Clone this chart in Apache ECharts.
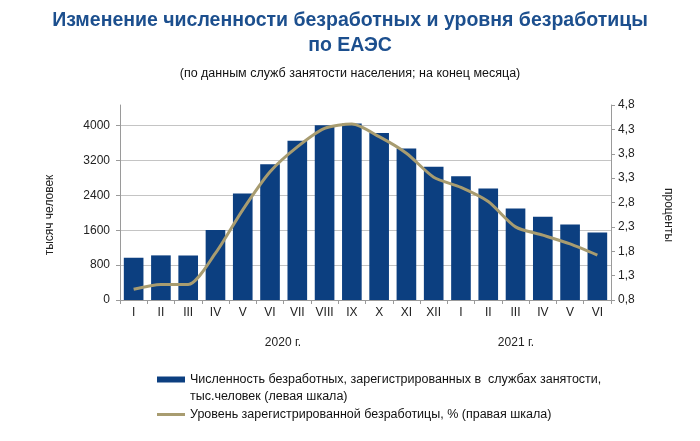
<!DOCTYPE html>
<html><head><meta charset="utf-8">
<script src="https://cdn.jsdelivr.net/npm/echarts@6/dist/echarts.min.js"></script>
<style>html,body{margin:0;padding:0;background:#fff}#c{width:700px;height:441px}</style>
</head><body><div id="c"></div>
<script>
const categories = ['I','II','III','IV','V','VI','VII','VIII','IX','X','XI','XII','I','II','III','IV','V','VI'];
const unemployed = [970,1024,1024,1604,2445,3117,3652,4011,4050,3835,3476,3056,2842,2560,2101,1910,1734,1551];
const rate = [1.02,1.12,1.12,1.76,2.65,3.43,3.94,4.32,4.41,4.15,3.81,3.32,3.11,2.82,2.30,2.13,1.95,1.72];
const leftTicks = [0,800,1600,2400,3200,4000];
const rightTickLabels = ['0,8','1,3','1,8','2,3','2,8','3,3','3,8','4,3','4,8'];
const years = ['2020 г.','2021 г.'];
const barName = 'Численность безработных, зарегистрированных в  службах занятости,\nтыс.человек (левая шкала)';
const lineName = 'Уровень зарегистрированной безработицы, % (правая шкала)';

const FONT = 'Liberation Sans, Arial, sans-serif';
const chart = echarts.init(document.getElementById('c'), null, {renderer:'canvas'});
chart.setOption({
  animation:false,
  backgroundColor:'#fff',
  textStyle:{fontFamily:FONT},
  title:[
    {text:'Изменение численности безработных и уровня безработицы\nпо ЕАЭС', left:'center', top:3,
     textStyle:{fontFamily:FONT, fontSize:19.5, fontWeight:'bold', color:'#1c4f8e', lineHeight:25}},
    {text:'(по данным служб занятости населения; на конец месяца)', left:'center', top:62,
     textStyle:{fontFamily:FONT, fontSize:12.5, fontWeight:'normal', color:'#111'}}
  ],
  grid:{left:120, right:89, top:105, bottom:141, containLabel:false},
  legend:{
    orient:'vertical', left:152, top:349, itemGap:1, itemWidth:28, itemHeight:6,
    data:[{name:barName, icon:'rect'}, {name:lineName, icon:'path://M0,0 L28,0 L28,3 L0,3 Z'}],
    formatter:function(n){ return n===barName ? '\n'+n : n; },
    textStyle:{fontFamily:FONT, fontSize:12.5, color:'#111', lineHeight:17}
  },
  xAxis:{
    type:'category', data:categories,
    axisLine:{lineStyle:{color:'#9a9a9a'}},
    axisTick:{show:true, length:4, lineStyle:{color:'#9a9a9a'}},
    axisLabel:{color:'#222', fontSize:12, margin:7, interval:0, fontFamily:FONT}
  },
  yAxis:[
    {type:'value', min:0, max:4475, interval:800, position:'left',
     axisLine:{show:true, lineStyle:{color:'#9a9a9a'}},
     axisTick:{show:true, length:4, lineStyle:{color:'#9a9a9a'}},
     axisLabel:{color:'#222', fontSize:12, margin:10, showMaxLabel:false, fontFamily:FONT,
       formatter:function(v){ return leftTicks.indexOf(v)>=0 ? String(v) : ''; }},
     splitLine:{show:true, showMaxLine:false, showMinLine:false, lineStyle:{color:'#c4c4c4'}}
    },
    {type:'value', min:0.8, max:4.8, interval:0.5, position:'right',
     axisLine:{show:true, lineStyle:{color:'#9a9a9a'}},
     axisTick:{show:true, length:4, lineStyle:{color:'#9a9a9a'}},
     axisLabel:{color:'#222', fontSize:12, margin:7, fontFamily:FONT,
       formatter:function(v){ const i=Math.round((v-0.8)/0.5); return rightTickLabels[i]||''; }},
     splitLine:{show:false}
    }
  ],
  series:[
    {name:barName, type:'bar', data:unemployed, yAxisIndex:0, barCategoryGap:'28%',
     itemStyle:{color:'#0c3f80'}},
    {name:lineName, type:'line', data:rate, yAxisIndex:1, smooth:0.25, symbol:'none', showSymbol:false,
     lineStyle:{color:'#a89c70', width:3}, itemStyle:{color:'#a89c70'}, z:5}
  ],
  graphic:[
    {type:'text', x:50, y:215, rotation:Math.PI/2,
     style:{text:'тысяч человек', font:'12px '+FONT, fill:'#222', align:'center', verticalAlign:'middle'}},
    {type:'text', x:668, y:215, rotation:-Math.PI/2,
     style:{text:'проценты', font:'12px '+FONT, fill:'#222', align:'center', verticalAlign:'middle'}},
    {type:'text', x:283, y:343,
     style:{text:years[0], font:'12px '+FONT, fill:'#222', align:'center', verticalAlign:'middle'}},
    {type:'text', x:516, y:343,
     style:{text:years[1], font:'12px '+FONT, fill:'#222', align:'center', verticalAlign:'middle'}}
  ]
});
</script></body></html>
